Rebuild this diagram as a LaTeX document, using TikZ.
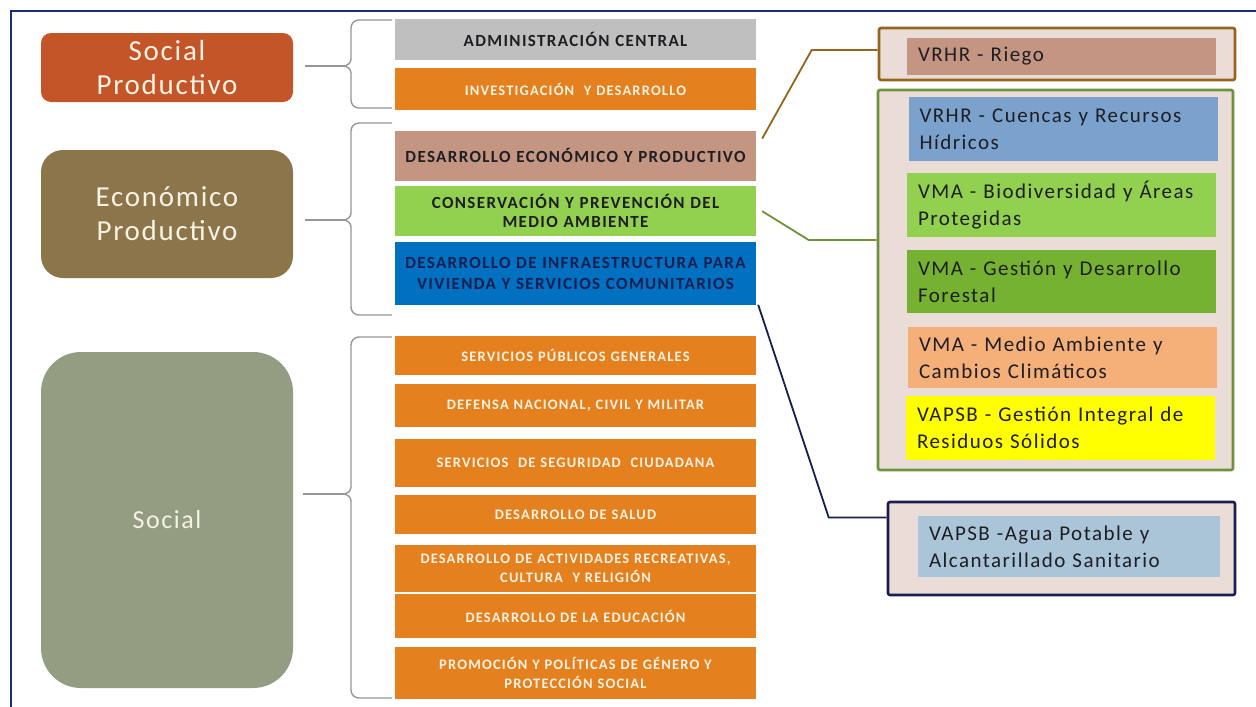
\documentclass[tikz,border=0pt]{standalone}
\usepackage{fontspec}
\setmainfont{Carlito}
\newfontfamily\barfont[LetterSpace=8]{Carlito}
\newfontfamily\unitfont[LetterSpace=7]{Carlito}
\newfontfamily\sectfont[LetterSpace=6]{Carlito}
\usetikzlibrary{positioning,calc}
\definecolor{frame}{RGB}{25,45,120}
\definecolor{cSP}{RGB}{195,85,40}
\definecolor{cEP}{RGB}{140,117,75}
\definecolor{cSO}{RGB}{147,157,130}
\definecolor{cTxt}{RGB}{246,242,228}
\definecolor{cAC}{RGB}{191,191,191}
\definecolor{cOr}{RGB}{228,128,30}
\definecolor{cDEP}{RGB}{196,150,130}
\definecolor{cCP}{RGB}{146,208,80}
\definecolor{cDIV}{RGB}{0,112,192}
\definecolor{cPanel}{RGB}{234,220,215}
\definecolor{bRiego}{RGB}{150,100,30}
\definecolor{bGreen}{RGB}{110,145,60}
\definecolor{bAgua}{RGB}{25,30,80}
\definecolor{cCU}{RGB}{122,162,205}
\definecolor{cBIO}{RGB}{146,208,80}
\definecolor{cFOR}{RGB}{118,178,50}
\definecolor{cMED}{RGB}{245,175,120}
\definecolor{cRES}{RGB}{255,255,0}
\definecolor{cAG}{RGB}{170,196,216}
\definecolor{brace}{RGB}{150,150,150}
\definecolor{dark}{RGB}{30,30,35}
% left-pointing curly brace: name of tip, top, tip, bottom
\newcommand{\curly}[4]{%
  \draw[brc] (392,#2) -- (359,#2) to[out=180,in=90] (351,#2+8) -- (351,#3-7)
    to[out=-90,in=0] (343,#3) coordinate (#1) to[out=0,in=90] (351,#3+7)
    -- (351,#4-8) to[out=-90,in=180] (359,#4) -- (392,#4);}

\begin{document}
\begin{tikzpicture}[
  x=1pt, y=-1pt,
  sector/.style={fill=#1, minimum width=252pt, inner sep=0pt, align=center, text=cTxt,
    font=\sectfont\fontsize{29}{34}\selectfont},
  bar/.style={fill=#1, minimum width=361pt, text width=359pt, inner sep=0pt, align=center,
    font=\barfont\bfseries\fontsize{17}{19}\selectfont},
  wbar/.style={bar=cOr, text=cTxt, font=\barfont\bfseries\fontsize{14.5}{19}\selectfont},
  panel/.style={draw=#1, line width=2.6pt, fill=cPanel, rounded corners=2pt, inner sep=0pt},
  unit/.style={fill=#1, minimum width=309pt, text width=287pt, inner sep=0pt, align=left,
    text=dark, font=\unitfont\fontsize{21}{27}\selectfont},
  brc/.style={draw=brace, line width=1.4pt},
  lnk/.style={line width=1.8pt},
]
\useasboundingbox (0,0) rectangle (1256,707);
\fill[white] (0,0) rectangle (1256,707);
\draw[frame, line width=2.2pt] (1256,11) -- (11,11) -- (11,707);

% ---- sectors (left) ----
\node[sector=cSP, minimum height=69pt, rounded corners=10pt] (SP) at (167,67.5) {Social\\Productivo};
\node[sector=cEP, minimum height=128pt, rounded corners=22pt] (EP) at (167,214) {Económico\\Productivo};
\node[sector=cSO, minimum height=336pt, rounded corners=40pt, font=\sectfont\fontsize{26}{30}\selectfont] (SO) at (167,520) {Social};

% ---- braces ----
\curly{tA}{20}{66}{108}
\curly{tB}{123}{220}{315}
\curly{tC}{337}{494}{698}
\draw[brc, shorten >=12pt] (tA) -- (tA -| SP.east);
\draw[brc, shorten >=12pt] (tB) -- (tB -| EP.east);
\draw[brc, shorten >=10pt] (tC) -- (tC -| SO.east);

% ---- functions (middle) ----
\node[bar=cAC, minimum height=41pt, text=dark] (AC) at (575.5,39.5) {ADMINISTRACIÓN CENTRAL};
\node[wbar, minimum height=42pt, below=8pt of AC] (ID) {INVESTIGACIÓN \ Y DESARROLLO};
\node[bar=cDEP, minimum height=50pt, text=dark, below=20pt of ID] (DEP) {DESARROLLO ECONÓMICO Y PRODUCTIVO};
\node[bar=cCP, minimum height=50pt, text=dark, below=5pt of DEP] (CP) {CONSERVACIÓN Y PREVENCIÓN DEL\\MEDIO AMBIENTE};
\node[bar=cDIV, minimum height=63pt, text=bAgua, below=5pt of CP,
  font=\barfont\bfseries\fontsize{17}{21}\selectfont] (DIV) {DESARROLLO DE INFRAESTRUCTURA PARA\\VIVIENDA Y SERVICIOS COMUNITARIOS};

\node[wbar, minimum height=39pt] (SPG) at (575.5,355.5) {SERVICIOS PÚBLICOS GENERALES};
\node[wbar, minimum height=43pt, below=9pt of SPG] (DN) {DEFENSA NACIONAL, CIVIL Y MILITAR};
\node[wbar, minimum height=48pt, below=11pt of DN] (SSC) {SERVICIOS \ DE SEGURIDAD \ CIUDADANA};
\node[wbar, minimum height=39pt, below=8pt of SSC] (DS) {DESARROLLO DE SALUD};
\node[wbar, minimum height=47pt, below=10pt of DS] (DAR) {DESARROLLO DE ACTIVIDADES RECREATIVAS,\\CULTURA \ Y RELIGIÓN};
\node[wbar, minimum height=44pt, below=2pt of DAR] (DE) {DESARROLLO DE LA EDUCACIÓN};
\node[wbar, minimum height=52pt, below=9pt of DE] (PPG) {PROMOCIÓN Y POLÍTICAS DE GÉNERO Y\\PROTECCIÓN SOCIAL};

% ---- vice-ministries (right) ----
\node[panel=bRiego, minimum width=356pt, minimum height=52pt] (RIEGO) at (1057,54) {};
\node[unit=cDEP, minimum height=37pt] (RI) at (1061.5,56.5) {VRHR - Riego};

\node[panel=bGreen, minimum width=355pt, minimum height=380pt] (GRN) at (1055.5,280) {};
\node[unit=cCU, minimum height=64pt] (CU) at (1063,129) {VRHR - Cuencas y Recursos\\Hídricos};
\node[unit=cBIO, minimum height=64pt] (BIO) at (1061.5,205) {VMA - Biodiversidad y Áreas\\Protegidas};
\node[unit=cFOR, minimum height=63pt] (FOR) at (1061.5,281.5) {VMA - Gestión y Desarrollo\\Forestal};
\node[unit=cMED, minimum height=61pt] (MED) at (1062.5,357.5) {VMA - Medio Ambiente y\\Cambios Climáticos};
\node[unit=cRES, minimum height=64pt] (RES) at (1060.5,428) {VAPSB - Gestión Integral de\\Residuos Sólidos};

\node[panel=bAgua, minimum width=347pt, minimum height=93pt] (AGUA) at (1061.5,548.5) {};
\node[unit=cAG, minimum width=302pt, text width=280pt, minimum height=61pt] (AG) at (1069,546.5) {VAPSB -Agua Potable y\\Alcantarillado Sanitario};

% ---- links ----
\draw[lnk, bRiego] ([shift={(6pt,-8pt)}]DEP.north east) -- ([shift={(-66pt,4pt)}]RIEGO.west) -- ([yshift=4pt]RIEGO.west);
\draw[lnk, bGreen] ([xshift=6pt]CP.east) -- ([shift={(-68pt,40pt)}]GRN.west) -- ([yshift=40pt]GRN.west);
\draw[lnk, bAgua] ([xshift=2pt]DIV.south east) -- ([shift={(-58pt,31pt)}]AGUA.west) -- ([yshift=31pt]AGUA.west);

\end{tikzpicture}
\end{document}
